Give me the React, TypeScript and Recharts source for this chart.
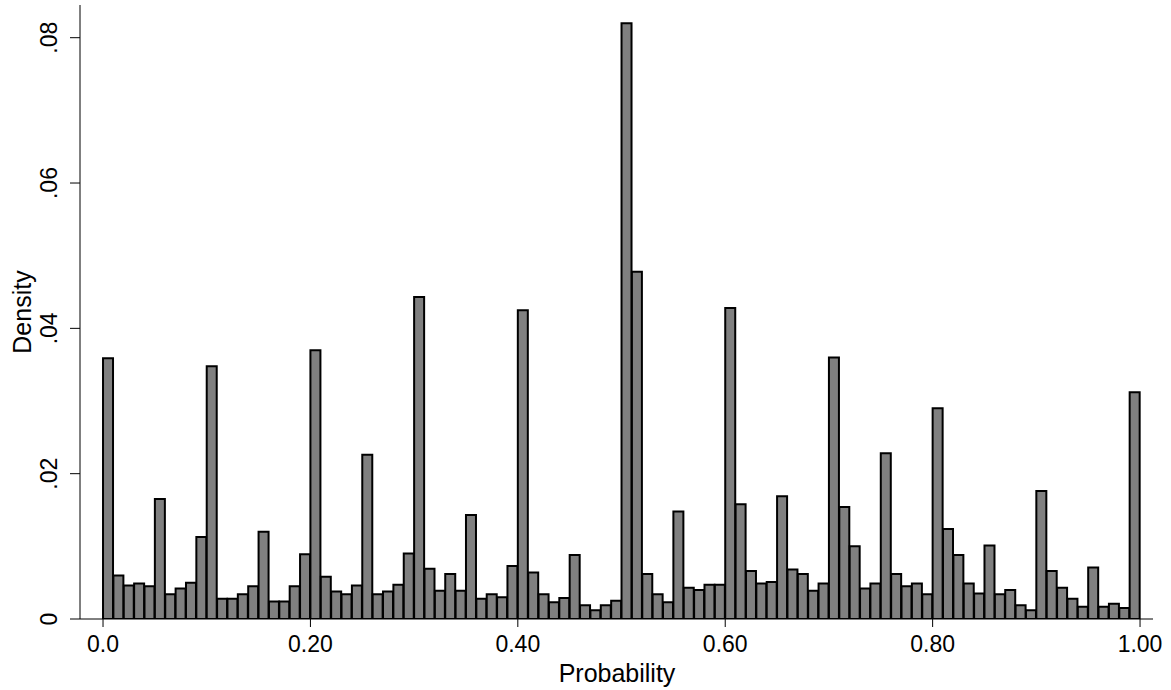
import { BarChart, Bar, XAxis, YAxis } from 'recharts';

// histogram of predicted probabilities, 100 bins of width 0.01
const binWidth = 0.01;
const density = [
  0.0359, 0.006, 0.0046, 0.0049, 0.0045, 0.0165, 0.0034, 0.0042, 0.005, 0.0113,
  0.0348, 0.0028, 0.0028, 0.0034, 0.0045, 0.012, 0.0024, 0.0024, 0.0045, 0.0089,
  0.037, 0.0058, 0.0038, 0.0034, 0.0046, 0.0226, 0.0034, 0.0038, 0.0047, 0.009,
  0.0443, 0.0069, 0.0039, 0.0062, 0.0039, 0.0143, 0.0028, 0.0034, 0.003, 0.0073,
  0.0425, 0.0064, 0.0034, 0.0023, 0.0029, 0.0088, 0.0019, 0.0012, 0.0019, 0.0025,
  0.082, 0.0478, 0.0062, 0.0034, 0.0023, 0.0148, 0.0043, 0.004, 0.0047, 0.0047,
  0.0428, 0.0158, 0.0066, 0.0049, 0.0051, 0.0169, 0.0068, 0.0062, 0.0039, 0.0049,
  0.036, 0.0154, 0.01, 0.0042, 0.0049, 0.0228, 0.0062, 0.0045, 0.0049, 0.0034,
  0.029, 0.0124, 0.0088, 0.0049, 0.0035, 0.0101, 0.0034, 0.004, 0.0019, 0.0012,
  0.0176, 0.0066, 0.0043, 0.0028, 0.0017, 0.0071, 0.0017, 0.0021, 0.0015, 0.0312,
];

const xTicks = [0, 0.2, 0.4, 0.6, 0.8, 1];
const xTickLabels = ['0.0', '0.20', '0.40', '0.60', '0.80', '1.00'];
const yTicks = [0, 0.02, 0.04, 0.06, 0.08];
const yTickLabels = ['0', '.02', '.04', '.06', '.08'];

const data = density.map((d, i) => ({ mid: (i + 0.5) * binWidth, density: d }));

const FONT = "'Liberation Sans', Arial, sans-serif";
const xDomain: [number, number] = [-0.0222, 1.0125];
const yDomain: [number, number] = [0, 0.0845];

const YTick = (props: any) => {
  const { y, payload } = props;
  const idx = yTicks.indexOf(payload.value);
  return (
    <text
      x={57}
      y={y}
      transform={`rotate(-90, 57, ${y})`}
      textAnchor="middle"
      fontSize={23}
      fontFamily={FONT}
      fill="#000"
    >
      {idx >= 0 ? yTickLabels[idx] : payload.value}
    </text>
  );
};

export default function App() {
  return (
    <div style={{ position: 'absolute', left: 0, top: 0, width: 1171, height: 690, background: '#fff' }}>
      <BarChart
        width={1171}
        height={690}
        data={data}
        margin={{ top: 5, right: 18, left: 0, bottom: 0 }}
        barCategoryGap={0}
        barGap={0}
      >
        <XAxis
          dataKey="mid"
          type="number"
          domain={xDomain}
          allowDataOverflow
          ticks={xTicks}
          tickFormatter={(v: number) => xTickLabels[xTicks.indexOf(v)] ?? String(v)}
          height={71}
          tickSize={8}
          tickMargin={9}
          stroke="#000"
          tick={{ fontSize: 23, fill: '#000', fontFamily: FONT }}
          label={{
            content: () => (
              <text x={617} y={682} textAnchor="middle" fontSize={25} fontFamily={FONT} fill="#000">
                Probability
              </text>
            ),
          }}
        />
        <XAxis xAxisId="top" orientation="top" type="number" domain={xDomain} allowDataOverflow height={0} tick={false} tickLine={false} stroke="#000" />
        <YAxis
          type="number"
          domain={yDomain}
          allowDataOverflow
          ticks={yTicks}
          width={80}
          tickSize={10}
          stroke="#000"
          tick={<YTick />}
          label={{
            content: () => (
              <text x={31} y={312} transform="rotate(-90, 31, 312)" textAnchor="middle" fontSize={25} fontFamily={FONT} fill="#000">
                Density
              </text>
            ),
          }}
        />
        <YAxis yAxisId="right" orientation="right" type="number" domain={yDomain} allowDataOverflow width={0} tick={false} tickLine={false} stroke="#000" />
        <Bar dataKey="density" fill="#808080" stroke="#000" strokeWidth={2} isAnimationActive={false} />
      </BarChart>
    </div>
  );
}
